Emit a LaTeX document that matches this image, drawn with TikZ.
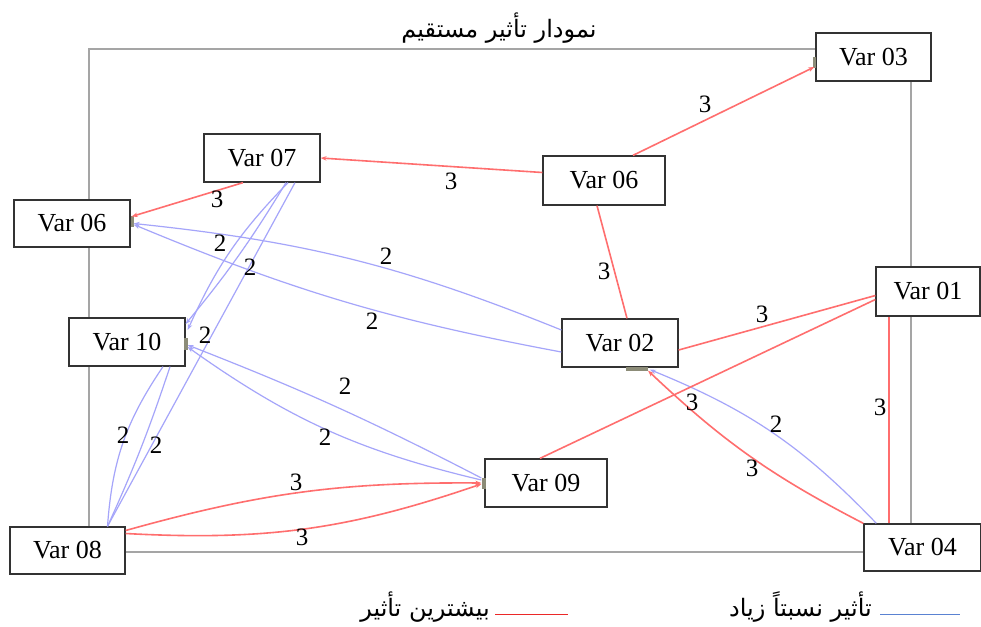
\documentclass[tikz,border=0pt]{standalone}
\usepackage{fontspec}
\setmainfont{Liberation Serif}
\newfontfamily\arabicfont[Script=Arabic]{DejaVu Sans}
\TeXXeTstate=1
\usetikzlibrary{calc,arrows.meta}
\definecolor{redE}{RGB}{255,110,110}
\definecolor{blueE}{RGB}{165,165,250}
\definecolor{legBlue}{RGB}{90,130,210}
\definecolor{legRed}{RGB}{235,40,40}
\definecolor{frameG}{RGB}{165,165,165}
\definecolor{markG}{RGB}{140,140,120}
\begin{document}
\begin{tikzpicture}[x=1pt,y=-1pt,
  varbox/.style={draw=black!80, line width=1.3pt, fill=white, inner sep=0pt, font=\fontsize{26}{29}\selectfont},
  rede/.style={draw=redE, line width=1.6pt},
  bluee/.style={draw=blueE, line width=1.2pt},
  tipend/.style={-{Stealth[length=6pt,width=4.5pt]}},
  lbl/.style={inner sep=0pt, font=\fontsize{25}{28}\selectfont},
  artext/.style={inner sep=0pt, font=\arabicfont\fontsize{24}{28}\selectfont},
  marker/.style={fill=markG}]
\useasboundingbox (0,0) rectangle (981,626);
\fill[white] (0,0) rectangle (981,626);
\draw[frameG, line width=1.5pt] (89,49) rectangle (911,552);

% nodes
\node[varbox, minimum width=115pt, minimum height=48pt] (v03) at (873.5,57) {Var 03};
\node[varbox, minimum width=116pt, minimum height=48pt] (v07) at (262,158) {Var 07};
\node[varbox, minimum width=122pt, minimum height=49pt] (v06r) at (604,180.5) {Var 06};
\node[varbox, minimum width=116pt, minimum height=47pt] (v06l) at (72,223.5) {Var 06};
\node[varbox, minimum width=116pt, minimum height=48pt] (v10) at (127,342) {Var 10};
\node[varbox, minimum width=116pt, minimum height=48pt] (v02) at (620,343) {Var 02};
\node[varbox, minimum width=104pt, minimum height=49pt] (v01) at (928,291.5) {Var 01};
\node[varbox, minimum width=122pt, minimum height=48pt] (v09) at (546,483) {Var 09};
\node[varbox, minimum width=115pt, minimum height=47pt] (v08) at (67.5,550.5) {Var 08};
\node[varbox, minimum width=117pt, minimum height=47pt] (v04) at (922.5,547.5) {Var 04};

% small markers
\fill[marker] (130.5,216) rectangle (133.5,227);
\fill[marker] (184,338) rectangle (188,350);
\fill[marker] (626,367) rectangle (648,371);
\fill[marker] (813,57) rectangle (816,68);
\fill[marker] (482,478) rectangle (485.5,489);

% blue edges
\draw[bluee, tipend] ($(v02.west)+(0,-13)$) to[bend right=8] ($(v06l.east)+(3,0)$);
\draw[bluee, tipend] ($(v02.west)+(0,9)$) to[bend left=6] ($(v06l.east)+(3,1)$);
\draw[bluee, tipend] ($(v04.north west)+(13,0)$) to[bend right=12] ($(v02.south)+(30,2)$);
\draw[bluee, tipend] ($(v09.west)+(-3,-5)$) to[bend right=3] ($(v10.east)+(2,3)$);
\draw[bluee, tipend] ($(v09.west)+(-3,-3)$) to[bend left=11] ($(v10.east)+(2,5)$);
\draw[bluee, tipend] ($(v07.south)+(24,0)$) to[bend left=4] ($(v10.east)+(0,-18)$);
\draw[bluee, tipend] ($(v07.south)+(26,0)$) to[bend right=10] ($(v10.east)+(2,-12)$);
\draw[bluee] ($(v07.south)+(33,0)$) -- ($(v08.north)+(40,0)$);
\draw[bluee] ($(v10.south)+(36,0)$) to[bend right=15] ($(v08.north)+(40,0)$);
\draw[bluee] ($(v10.south)+(43,0)$) to[bend left=3] ($(v08.north)+(40,0)$);

% red edges
\draw[rede, tipend] ($(v06r.north)+(29,0)$) -- ($(v03.west)+(-1,10)$);
\draw[rede, tipend] ($(v06r.west)+(0,-8)$) -- (v07.east);
\draw[rede, tipend] ($(v07.south)+(-19,0)$) -- ($(v06l.east)+(1,-7)$);
\draw[rede] ($(v06r.south)+(-7,0)$) -- ($(v02.north)+(7,0)$);
\draw[rede] ($(v02.east)+(0,7)$) -- ($(v01.west)+(0,4)$);
\draw[rede] ($(v09.north)+(-6,0)$) -- ($(v01.west)+(0,8)$);
\draw[rede] ($(v04.north)+(-33.5,0)$) -- ($(v01.south)+(-39,0)$);
\draw[rede, tipend] (v04.north west) to[bend left=8] ($(v02.south)+(28,3)$);
\draw[rede, tipend] ($(v08.east)+(0,-20)$) to[bend left=8] ($(v09.west)+(-3,0)$);
\draw[rede, tipend] ($(v08.east)+(0,-17)$) to[bend right=11] ($(v09.west)+(-3,1)$);

% labels
\node[lbl] (l01) at (705,104) {3};
\node[lbl] (l02) at (451,181) {3};
\node[lbl] (l03) at (217,199) {3};
\node[lbl] (l04) at (604,271) {3};
\node[lbl] (l05) at (762,314) {3};
\node[lbl] (l06) at (692,402) {3};
\node[lbl] (l07) at (880,407) {3};
\node[lbl] (l08) at (752,468) {3};
\node[lbl] (l09) at (296,482) {3};
\node[lbl] (l10) at (302,537) {3};
\node[lbl] (l11) at (386,256) {2};
\node[lbl] (l12) at (372,321) {2};
\node[lbl] (l13) at (776,424) {2};
\node[lbl] (l14) at (345,386) {2};
\node[lbl] (l15) at (325,437) {2};
\node[lbl] (l16) at (220,243) {2};
\node[lbl] (l17) at (250,267) {2};
\node[lbl] (l18) at (205,335) {2};
\node[lbl] (l19) at (123,435) {2};
\node[lbl] (l20) at (156,445) {2};

% title
\node[artext] (title) at (499,28) {\beginR نمودار تأثير مستقيم\endR};

% legend
\coordinate (lb1) at (880,614);
\coordinate (lb2) at (960,614);
\draw[legBlue, line width=1pt] (lb1) -- (lb2);
\node[artext, anchor=east] (legb) at (872,607) {\beginR تأثير نسبتاً زياد\endR};
\coordinate (lr1) at (495,614);
\coordinate (lr2) at (568,614);
\draw[legRed, line width=1pt] (lr1) -- (lr2);
\node[artext, anchor=east] (legr) at (490,607) {\beginR بيشترين تأثير\endR};
\end{tikzpicture}
\end{document}
